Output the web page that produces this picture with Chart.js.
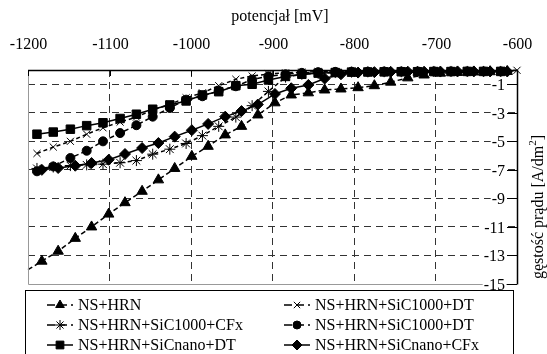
<!DOCTYPE html>
<html>
<head>
<meta charset="utf-8">
<script src="https://cdn.jsdelivr.net/npm/chart.js@4.4.1/dist/chart.umd.min.js"></script>
<style>
  html, body { margin: 0; padding: 0; background: #fff; }
</style>
</head>
<body>
<canvas id="chart" width="547" height="354"></canvas>
<script>
// axis texts
const xTitle = 'potencjał [mV]';
const yTitle = 'gęstość prądu [A/dm';
const yTitleSup = '2';
const xTicks = [-1200, -1100, -1000, -900, -800, -700, -600];
const yTicks = [-1, -3, -5, -7, -9, -11, -13, -15];

// potentials [mV] (two sampling grids)
const potA = [-1189, -1169, -1148, -1128, -1108, -1087, -1067, -1047, -1026, -1006,
  -986, -966, -945, -925, -905, -884, -864, -844, -823, -803,
  -783, -763, -742, -722, -702, -681, -661, -641, -620, -600];
const potB = [-1183, -1163, -1142, -1122, -1101, -1081, -1060, -1040, -1020, -999,
  -979, -958, -938, -918, -897, -877, -856, -836, -816, -795,
  -775, -755, -734, -714, -694, -673, -653, -633, -612];
const potTri = [-1200, -1183, -1163, -1142, -1122, -1101, -1081, -1060, -1040, -1020,
  -999, -979, -958, -938, -918, -897, -877, -856, -836, -816,
  -795, -775, -755, -734, -714, -694, -673, -653, -633, -612];

// current density [A/dm2]
const nsHrn = [-14.0, -13.4, -12.7, -11.8, -11.0, -10.1, -9.3, -8.5, -7.7, -6.9,
  -6.05, -5.35, -4.55, -3.95, -3.15, -2.3, -1.75, -1.6, -1.4, -1.33,
  -1.24, -1.1, -0.85, -0.55, -0.35, -0.22, -0.17, -0.14, -0.12, -0.1];
const sic1000DtX = [-5.85, -5.4, -5.0, -4.5, -4.05, -3.65, -3.3, -2.8, -2.4, -1.95,
  -1.6, -1.1, -0.65, -0.42, -0.28, -0.2, -0.15, -0.12, -0.12, -0.1,
  -0.1, -0.1, -0.1, -0.1, -0.09, -0.08, -0.08, -0.06, -0.05, -0.02];
const sic1000Cfx = [-6.9, -6.8, -6.7, -6.65, -6.6, -6.5, -6.35, -5.9, -5.55, -5.15,
  -4.6, -3.95, -3.3, -2.5, -1.5, -0.5, -0.3, -0.22, -0.18, -0.15,
  -0.13, -0.12, -0.12, -0.11, -0.1, -0.1, -0.1, -0.1, -0.1];
const sic1000Dt = [-7.1, -6.76, -6.17, -5.66, -5.0, -4.42, -3.87, -3.27, -2.66, -2.08,
  -1.84, -1.45, -1.14, -0.67, -0.44, -0.3, -0.2, -0.15, -0.13, -0.12,
  -0.12, -0.11, -0.11, -0.1, -0.1, -0.1, -0.1, -0.1, -0.1];
const sicNanoDt = [-4.5, -4.35, -4.15, -3.9, -3.7, -3.4, -3.1, -2.75, -2.45, -2.17,
  -1.75, -1.52, -1.1, -1.0, -0.7, -0.45, -0.3, -0.22, -0.18, -0.15,
  -0.14, -0.13, -0.12, -0.12, -0.11, -0.11, -0.1, -0.1, -0.1];
const sicNanoCfx = [-7.0, -6.87, -6.71, -6.52, -6.29, -5.89, -5.47, -5.12, -4.67, -4.22,
  -3.78, -3.27, -2.88, -2.42, -1.68, -1.28, -1.05, -0.6, -0.3, -0.18,
  -0.15, -0.13, -0.12, -0.12, -0.11, -0.1, -0.1, -0.1, -0.1];

const seriesNames = ['NS+HRN', 'NS+HRN+SiC1000+DT', 'NS+HRN+SiC1000+CFx',
  'NS+HRN+SiC1000+DT', 'NS+HRN+SiCnano+DT', 'NS+HRN+SiCnano+CFx'];

const FONT = "'Liberation Serif', 'Times New Roman', serif";

function pts(xs, ys) {
    return ys.map((y, i) => ({ x: xs[i], y: y }));
}

function series(label, xs, ys, style, radius, dash) {
    return {
        label: label,
        data: pts(xs, ys),
        showLine: true,
        borderColor: '#000',
        backgroundColor: '#000',
        borderWidth: 1.5,
        borderDash: dash,
        pointStyle: style,
        pointRadius: radius,
        pointBorderWidth: 1,
        pointBackgroundColor: '#000',
        pointBorderColor: '#000',
        clip: false
    };
}

const datasets = [
    series(seriesNames[0], potTri, nsHrn, 'triangle', ctx => ctx.dataIndex === 0 ? 0 : 6, [5, 3]),
    series(seriesNames[1], potA, sic1000DtX, 'crossRot', 5, [4, 3]),
    series(seriesNames[2], potA, sic1000Cfx, 'star', 5.5, [4, 3]),
    series(seriesNames[3], potA, sic1000Dt, 'circle', 4.5, [5, 3]),
    series(seriesNames[4], potA, sicNanoDt, 'rect', 6, []),
    series(seriesNames[5], potB, sicNanoCfx, 'rectRot', 5.5, [])
];

// borders, tick labels, titles and the boxed legend
const decorations = {
    id: 'decorations',
    afterDraw(chart) {
        const ctx = chart.ctx;
        const a = chart.chartArea;
        const xs = chart.scales.x;
        const ys = chart.scales.y;
        ctx.save();

        // frame
        ctx.setLineDash([]);
        ctx.lineWidth = 1;
        ctx.strokeStyle = '#999';
        ctx.beginPath();
        ctx.moveTo(a.left + 0.5, a.top);
        ctx.lineTo(a.left + 0.5, a.bottom + 0.5);
        ctx.lineTo(a.right, a.bottom + 0.5);
        ctx.stroke();
        ctx.strokeStyle = '#000';
        ctx.lineWidth = 1.5;
        ctx.beginPath();
        ctx.moveTo(a.left, a.top + 0.5);
        ctx.lineTo(a.right + 0.5, a.top + 0.5);
        ctx.lineTo(a.right + 0.5, a.bottom + 0.5);
        ctx.stroke();

        // top axis ticks + labels
        ctx.lineWidth = 1;
        ctx.fillStyle = '#000';
        ctx.font = '16px ' + FONT;
        ctx.textAlign = 'center';
        ctx.textBaseline = 'middle';
        xTicks.forEach(v => {
            const px = Math.round(xs.getPixelForValue(v)) + 0.5;
            ctx.beginPath();
            ctx.moveTo(px, a.top);
            ctx.lineTo(px, a.top + 6);
            ctx.stroke();
            ctx.fillText(String(v), px, 45);
        });
        ctx.fillText(xTitle, 280, 17);

        // right axis ticks + labels (inside the plot)
        ctx.textAlign = 'right';
        yTicks.forEach(v => {
            const py = Math.round(ys.getPixelForValue(v)) + 0.5;
            const w = ctx.measureText(String(v)).width;
            ctx.fillStyle = '#fff';
            ctx.fillRect(a.right - 13 - w, py - 7, w + 2, 14);
            ctx.fillStyle = '#000';
            ctx.fillText(String(v), a.right - 12, py + 1);
            ctx.beginPath();
            ctx.moveTo(a.right - 10, py);
            ctx.lineTo(a.right, py);
            ctx.stroke();
        });

        // y title, reading bottom to top
        ctx.save();
        ctx.translate(539, 207);
        ctx.rotate(-Math.PI / 2);
        ctx.font = '16px ' + FONT;
        const w1 = ctx.measureText(yTitle).width;
        ctx.font = '11px ' + FONT;
        const w2 = ctx.measureText(yTitleSup).width;
        ctx.font = '16px ' + FONT;
        const w3 = ctx.measureText(']').width;
        let x0 = -(w1 + w2 + w3) / 2;
        ctx.textAlign = 'left';
        ctx.fillText(yTitle, x0, 0);
        ctx.font = '11px ' + FONT;
        ctx.fillText(yTitleSup, x0 + w1, -6);
        ctx.font = '16px ' + FONT;
        ctx.fillText(']', x0 + w1 + w2, 0);
        ctx.restore();

        // legend box
        ctx.fillStyle = '#fff';
        ctx.fillRect(25, 290, 488, 70);
        ctx.strokeStyle = '#000';
        ctx.lineWidth = 1;
        ctx.strokeRect(25.5, 290.5, 488, 70);
        const colX = [47, 284];
        const rowY = [305, 325, 345];
        ctx.textAlign = 'left';
        ctx.font = '16px ' + FONT;
        chart.data.datasets.forEach((ds, i) => {
            const x = colX[i % 2];
            const y = rowY[Math.floor(i / 2)];
            ctx.strokeStyle = '#000';
            ctx.fillStyle = '#000';
            ctx.lineWidth = 1.5;
            ctx.setLineDash(ds.borderDash.length ? [8, 4] : []);
            ctx.beginPath();
            ctx.moveTo(x, y);
            ctx.lineTo(x + 26, y);
            ctx.stroke();
            ctx.setLineDash([]);
            ctx.lineWidth = 1;
            const r = typeof ds.pointRadius === 'function' ? 5 : ds.pointRadius - 0.5;
            Chart.helpers.drawPoint(ctx, { pointStyle: ds.pointStyle, radius: r, rotation: 0, borderWidth: 1 }, x + 13, y);
            ctx.fillStyle = '#000';
            ctx.textBaseline = 'middle';
            ctx.fillText(ds.label, x + 31, y + 1);
        });
        ctx.restore();
    }
};

const gridColor = c => (c.tick && (c.tick.value === -1200 || c.tick.value === -600 || c.tick.value === -15)) ? 'rgba(0,0,0,0)' : '#333';

new Chart(document.getElementById('chart'), {
    type: 'scatter',
    data: { datasets: datasets },
    options: {
        responsive: false,
        animation: false,
        devicePixelRatio: 1,
        layout: { padding: { left: 28, top: 70, right: 30, bottom: 70 } },
        plugins: {
            legend: { display: false },
            tooltip: { enabled: false }
        },
        scales: {
            x: {
                type: 'linear',
                position: 'top',
                min: -1200,
                max: -600,
                afterBuildTicks: s => { s.ticks = xTicks.map(v => ({ value: v })); },
                afterFit: s => { s.height = 0; },
                ticks: { display: false },
                grid: { color: gridColor, lineWidth: 1, drawTicks: false },
                border: { display: false, dash: [7, 5] }
            },
            y: {
                type: 'linear',
                position: 'right',
                min: -15,
                max: 0,
                afterBuildTicks: s => { s.ticks = yTicks.map(v => ({ value: v })); },
                afterFit: s => { s.width = 0; },
                ticks: { display: false },
                grid: { color: gridColor, lineWidth: 1, drawTicks: false },
                border: { display: false, dash: [7, 5] }
            }
        }
    },
    plugins: [decorations]
});
</script>
</body>
</html>
